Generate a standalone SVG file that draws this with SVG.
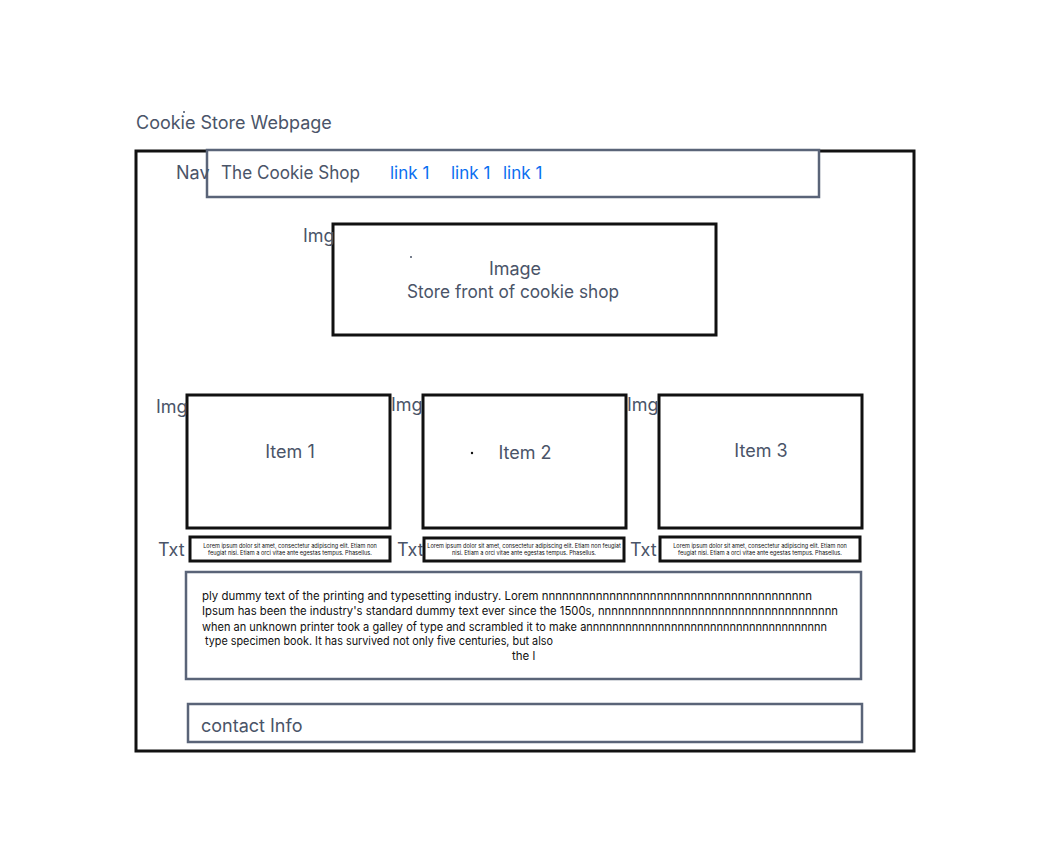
<svg xmlns="http://www.w3.org/2000/svg" width="1049" height="864" viewBox="0 0 1049 864">
<style>
.lbl{font-family:Inter,"Liberation Sans",sans-serif;fill:#4a5468;font-size:18px}
.link{font-family:Inter,"Liberation Sans",sans-serif;fill:#0b6ff0;font-size:17px}
.blk{fill:#fff;stroke:#111;stroke-width:3}
.sl{fill:#fff;stroke:#5a6478;stroke-width:2.5}
.tiny{font-family:Inter,"Liberation Sans",sans-serif;fill:#111;font-size:5.6px;text-anchor:middle}
.para{font-family:Inter,"Liberation Sans",sans-serif;fill:#111;font-size:11.5px}
.mid{text-anchor:middle}
</style>
<rect width="1049" height="864" fill="#fff"/>
<g id="title">
<text class="lbl" x="136" y="129">Cookie Store Webpage</text>
<circle cx="184" cy="112" r="1" fill="#4a5468"/>
</g>
<g id="frame"><rect class="blk" x="136" y="151" width="778" height="600"/></g>
<g id="nav">
<rect class="sl" x="207" y="150" width="612" height="47"/>
<text class="lbl" x="176" y="179">Nav</text>
<text class="lbl" x="221" y="179" textLength="139" lengthAdjust="spacingAndGlyphs">The Cookie Shop</text>
<text class="link" x="390" y="179">link 1</text>
<text class="link" x="451" y="179">link 1</text>
<text class="link" x="503" y="179">link 1</text>
</g>
<g id="hero">
<rect class="blk" x="333" y="224" width="383" height="111"/>
<text class="lbl" x="303" y="242">Img</text>
<circle cx="411" cy="257" r="1" fill="#4a5468"/>
<text class="lbl mid" x="515" y="275" font-size="17">Image</text>
<text class="lbl mid" x="513" y="298" font-size="17" textLength="212" lengthAdjust="spacingAndGlyphs">Store front of cookie shop</text>
</g>
<g id="item1">
<rect class="blk" x="187" y="395" width="203" height="133"/>
<text class="lbl" x="156" y="413">Img</text>
<text class="lbl mid" x="290" y="458">Item 1</text>
</g>
<g id="item2">
<rect class="blk" x="423" y="395" width="203" height="133"/>
<text class="lbl" x="391" y="411">Img</text>
<circle cx="472" cy="453" r="1.2" fill="#111"/>
<text class="lbl mid" x="525" y="459">Item 2</text>
</g>
<g id="item3">
<rect class="blk" x="659" y="395" width="203" height="133"/>
<text class="lbl" x="627" y="411">Img</text>
<text class="lbl mid" x="761" y="457">Item 3</text>
</g>
<g id="txt1">
<rect class="blk" x="190" y="537" width="200" height="24"/>
<text class="lbl" x="158" y="556">Txt</text>
<text class="tiny" x="290" y="547.5">Lorem ipsum dolor sit amet, consectetur adipiscing elit. Etiam non</text>
<text class="tiny" x="290" y="555">feugiat nisi. Etiam a orci vitae ante egestas tempus. Phasellus.</text>
</g>
<g id="txt2">
<rect class="blk" x="424" y="538" width="200" height="23"/>
<text class="lbl" x="397" y="556">Txt</text>
<text class="tiny" x="524" y="547.5">Lorem ipsum dolor sit amet, consectetur adipiscing elit. Etiam non feugiat</text>
<text class="tiny" x="524" y="555">nisi. Etiam a orci vitae ante egestas tempus. Phasellus.</text>
</g>
<g id="txt3">
<rect class="blk" x="660" y="537" width="200" height="24"/>
<text class="lbl" x="630" y="556">Txt</text>
<text class="tiny" x="760" y="547.5">Lorem ipsum dolor sit amet, consectetur adipiscing elit. Etiam non</text>
<text class="tiny" x="760" y="555">feugiat nisi. Etiam a orci vitae ante egestas tempus. Phasellus.</text>
</g>
<g id="paragraph">
<rect class="sl" x="186" y="572" width="675" height="107"/>
<text class="para" x="202" y="600" textLength="610" lengthAdjust="spacingAndGlyphs">ply dummy text of the printing and typesetting industry. Lorem nnnnnnnnnnnnnnnnnnnnnnnnnnnnnnnnnnnnnnnn</text>
<text class="para" x="202" y="615" textLength="636" lengthAdjust="spacingAndGlyphs">Ipsum has been the industry's standard dummy text ever since the 1500s, nnnnnnnnnnnnnnnnnnnnnnnnnnnnnnnnnnnn</text>
<text class="para" x="202" y="631" textLength="625" lengthAdjust="spacingAndGlyphs">when an unknown printer took a galley of type and scrambled it to make annnnnnnnnnnnnnnnnnnnnnnnnnnnnnnnnnnnn</text>
<text class="para" x="205" y="645" textLength="348" lengthAdjust="spacingAndGlyphs">type specimen book. It has survived not only five centuries, but also</text>
<text class="para" x="512" y="660">the l</text>
</g>
<g id="contact">
<rect class="sl" x="188" y="704" width="674" height="38"/>
<text class="lbl" x="201" y="732">contact Info</text>
</g>
<g id="connectors"></g>
</svg>
